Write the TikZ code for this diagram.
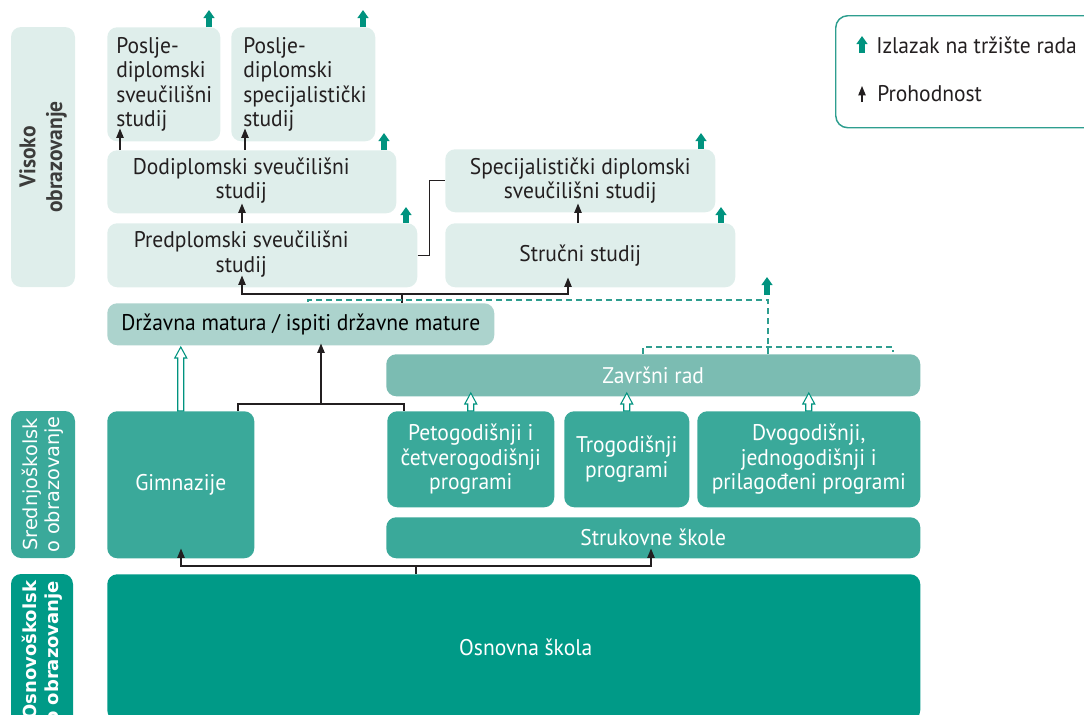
\documentclass[tikz,border=0pt]{standalone}
\usepackage{fontspec}
\setmainfont{PT Sans}[FakeStretch=0.95]
\newfontfamily\dvs{DejaVu Sans}
\usetikzlibrary{arrows.meta,calc}
\definecolor{lite}{HTML}{DFEEEB}
\definecolor{dmc}{HTML}{ACD3CD}
\definecolor{zrc}{HTML}{7BBCB2}
\definecolor{midc}{HTML}{3AA99A}
\definecolor{darkc}{HTML}{009A87}
\definecolor{arrc}{HTML}{00937F}
\definecolor{dshc}{HTML}{2E9E8F}
\definecolor{txtc}{HTML}{231F20}
\definecolor{labc}{HTML}{3C3C3B}
\newcommand\mkbox[6]{\node[bx,#6, anchor=north west, minimum width={(#4-#2)*0.75pt}, minimum height={(#5-#3)*0.75pt}] (#1) at (#2,#3)}
\newcommand\offx[2]{\hspace*{#1}#2\hspace*{-#1}}
\begin{document}
\begin{tikzpicture}[x=0.75pt,y=-0.75pt,
  bx/.style={rounded corners=7.5pt, inner sep=0pt, draw=none, align=center,
    font=\fontsize{17}{18.4}\selectfont},
  lt/.style={fill=lite, text=txtc},
  md/.style={fill=midc, text=white},
  mkt/.style={draw=arrc, line width=4pt, -{Triangle[width=8pt,length=6pt]}},
  blk/.style={draw=txtc, line width=0.9pt, -{Triangle[width=5.5pt,length=7pt]}},
  lnk/.style={draw=txtc, line width=0.9pt},
  dsh/.style={draw=dshc, line width=0.9pt, dash pattern=on 4.5pt off 3pt},
  hol/.style={draw=arrc, line width=0.8pt, fill=white},
  pics/hollow/.style={code={\path[hol] (-3,0) -- (-3,{-(#1-11)}) -- (-6,{-(#1-11)}) -- (0,{-#1}) -- (6,{-(#1-11)}) -- (3,{-(#1-11)}) -- (3,0) -- cycle;}}
]
\useasboundingbox (0,0) rectangle (1084,714);
\clip (0,0) rectangle (1084,714);

% side labels
\node[bx, fill=lite, text=labc, rotate=90, minimum width={260*0.75pt}, minimum height={64*0.75pt},
  font=\bfseries\fontsize{17}{20}\selectfont] (vis) at (43,157) {Visoko\\obrazovanje};
\node[bx, fill=midc, text=white, rotate=90, minimum width={147*0.75pt}, minimum height={64*0.75pt},
  font=\dvs\fontsize{14.5}{16.5}\selectfont] (sred) at (43,484.5) {Srednjoškolsk\\o obrazovanje};
\node[bx, fill=darkc, text=white, rotate=90, minimum width={186*0.75pt}, minimum height={62*0.75pt},
  text width={172*0.75pt}, align=right,
  font=\dvs\bfseries\fontsize{13.5}{16.5}\selectfont] (osl) at (42,667) {Osnovoškolsk\\o obrazovanje};

% higher education
\mkbox{pss}{107}{27}{220}{141}{lt, align=left, text width={95*0.75pt}} {Poslje-\\diplomski\\sveučilišni\\studij};
\mkbox{psp}{231}{27}{375}{141}{lt, align=left, text width={120*0.75pt}} {Poslje-\\diplomski\\specijalistički\\studij};
\mkbox{dod}{107}{150}{396}{213}{lt} {\offx{-7.9pt}{\begin{tabular}{@{}c@{}}Dodiplomski sveučilišni\\studij\end{tabular}}};
\mkbox{pred}{107}{223}{417}{287}{lt} {\offx{-15.75pt}{\begin{tabular}{@{}c@{}}Predplomski sveučilišni\\studij\end{tabular}}};
\mkbox{spec}{445}{149}{715}{212}{lt} {Specijalistički diplomski\\sveučilišni studij};
\mkbox{str}{445}{223}{735}{287}{lt} {\offx{-7.5pt}{Stručni studij}};

% legend
\node[draw=dshc, line width=1.1pt, rounded corners=9pt, anchor=north west,
  minimum width={265*0.75pt}, minimum height={112*0.75pt}, inner sep=0pt] (leg) at (835,15) {};
\node[anchor=base west, inner sep=0pt, text=txtc, font=\fontsize{17}{18.4}\selectfont] (l1) at (876,53) {Izlazak na tržište rada};
\node[anchor=base west, inner sep=0pt, text=txtc, font=\fontsize{17}{18.4}\selectfont] (l2) at (877,101) {Prohodnost};
\draw[mkt] ($(l1.base west)+(-14,0)$) -- ++(0,-17);
\draw[blk] ($(l2.base west)+(-15,1)$) -- ++(0,-16);

% matura, zavrsni
\mkbox{dm}{107}{303}{494}{345}{fill=dmc, text=black} {Državna matura / ispiti državne mature};
\mkbox{zr}{386}{354}{920}{396}{fill=zrc, text=white} {Završni rad};

% secondary
\mkbox{gim}{107}{411}{254}{558}{md} {Gimnazije};
\mkbox{pet}{387}{411}{554}{507}{md} {Petogodišnji i\\četverogodišnji\\programi};
\mkbox{tro}{564}{411}{689}{507}{md} {Trogodišnji\\programi};
\mkbox{dvo}{697}{411}{920}{507}{md} {Dvogodišnji,\\jednogodišnji i\\prilagođeni programi};
\mkbox{stk}{386}{517}{920}{558}{md} {Strukovne škole};
\mkbox{os}{107}{574}{920}{720}{fill=darkc, text=white} {\offx{9pt}{Osnovna škola}};

% market exits
\draw[mkt] ($(pss.north west)+(102,0)$) -- ++(0,-17);
\draw[mkt] ($(psp.north west)+(132,0)$) -- ++(0,-17);
\draw[mkt] ($(dod.north west)+(277,0)$) -- ++(0,-17);
\draw[mkt] ($(pred.north west)+(299,0)$) -- ++(0,-16);
\draw[mkt] ($(spec.north west)+(256,0)$) -- ++(0,-16);
\draw[mkt] ($(str.north west)+(276,0)$) -- ++(0,-16);

% progression arrows
\draw[blk] ($(dod.north west)+(13,0)$) -- ($(pss.south west)+(13,-13)$);
\draw[blk] ($(dod.north west)+(138,0)$) -- ($(psp.south west)+(14,-13)$);
\draw[blk] ($(pred.north west)+(135,0)$) -- ($(dod.south west)+(135,-10)$);
\draw[blk] ($(str.north west)+(133,0)$) -- ($(spec.south west)+(133,-9)$);
\draw[lnk] (pred.east) -- ++(12,0) |- (spec.west);

\coordinate (j1) at ($(dm.north west)+(295,-9)$);
\draw[lnk] ($(dm.north west)+(295,0)$) -- (j1);
\draw[blk] (j1) -| ($(pred.south west)+(135,-12)$);
\draw[blk] (j1) -| ($(str.south west)+(123,-10)$);

\coordinate (j2) at ($(gim.north west)+(214,-7)$);
\draw[lnk] ($(gim.north west)+(131,0)$) -- ++(0,-7) -| ($(pet.north west)+(17,0)$);
\draw[blk] (j2) -- ($(dm.south west)+(214,-2)$);

\coordinate (j3) at ($(os.north west)+(309,-8)$);
\draw[lnk] ($(os.north west)+(309,0)$) -- (j3);
\draw[blk] (j3) -| ($(gim.south west)+(74,-10)$);
\draw[blk] (j3) -| ($(stk.south west)+(265,-10)$);

% hollow arrows
\pic at (gim.north) {hollow=64};
\pic at (pet.north) {hollow=18};
\pic at (tro.north) {hollow=18};
\pic at (dvo.north) {hollow=18};

% dashed
\draw[dsh] ($(zr.north west)+(257,0)$) -- ++(0,-7) -| ($(zr.north west)+(507,-2)$);
\draw[dsh] ($(zr.north west)+(382,0)$) -- ++(0,-54) -| ($(dm.north west)+(201,0)$);
\draw[mkt] ($(zr.north west)+(381,-59)$) -- ++(0,-18);
\end{tikzpicture}
\end{document}
